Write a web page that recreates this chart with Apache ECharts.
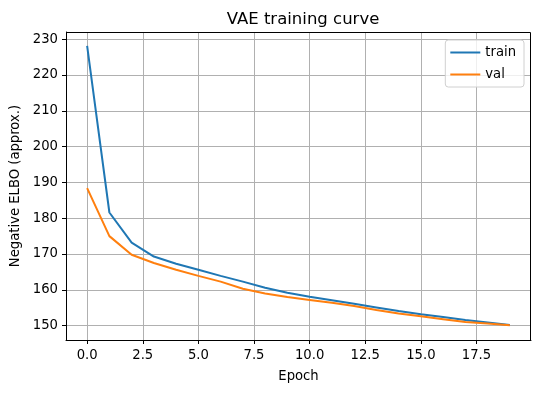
<!DOCTYPE html>
<html><head><meta charset="utf-8">
<script src="https://cdn.jsdelivr.net/npm/echarts@6/dist/echarts.min.js"></script>
<style>html,body{margin:0;padding:0;background:#fff}#c{width:540px;height:393px}</style>
</head><body><div id="c"></div>
<script>
const epochs = [0,1,2,3,4,5,6,7,8,9,10,11,12,13,14,15,16,17,18,19];
const train = [228.1,181.6,173.2,169.3,167.3,165.6,163.9,162.3,160.6,159.2,158.1,157.1,156.1,155.1,154.1,153.2,152.4,151.6,150.9,150.2];
const val = [188.4,175.0,169.8,167.5,165.6,163.9,162.3,160.3,159.0,158.0,157.2,156.4,155.5,154.4,153.4,152.6,151.8,151.0,150.6,150.1];
const xTicks = [0,2.5,5,7.5,10,12.5,15,17.5];
const yTicks = [150,160,170,180,190,200,210,220,230];

const font = 'DejaVu Sans';
const fs = 13.2;
const chart = echarts.init(document.getElementById('c'), null, {renderer:'canvas'});
chart.setOption({
  animation:false,
  backgroundColor:'#fff',
  title:{text:'VAE training curve', left:298, top:6, textAlign:'center',
    textStyle:{fontFamily:font, fontSize:16.5, fontWeight:'normal', color:'#000'}},
  grid:{left:66, right:9, top:32, bottom:53, containLabel:false, show:false},
  legend:{right:16, top:40, orient:'vertical', padding:[6,8,6,5], itemGap:9,
    itemWidth:30, itemHeight:2, icon:'rect', backgroundColor:'rgba(255,255,255,0.8)', borderColor:'#d0d0d0',
    borderWidth:1, borderRadius:3,
    textStyle:{fontFamily:font, fontSize:fs, color:'#000'},
    data:['train','val']},
  xAxis:{type:'value', min:-0.95, max:19.95, name:'Epoch', nameLocation:'middle', nameGap:30,
    nameTextStyle:{fontFamily:font, fontSize:fs, color:'#000'},
    axisLine:{show:true, onZero:false, lineStyle:{color:'#000', width:1}},
    axisTick:{show:true, length:4, inside:false, customValues:xTicks, lineStyle:{color:'#000'}},
    axisLabel:{customValues:xTicks, fontFamily:font, fontSize:fs, color:'#000', margin:9,
      formatter:v=>Number(v).toFixed(1)},
    splitLine:{show:true, lineStyle:{color:'#b0b0b0', width:1}}},
  yAxis:{type:'value', min:146.0, max:232.0, name:'Negative ELBO (approx.)', nameLocation:'middle', nameGap:43,
    nameTextStyle:{fontFamily:font, fontSize:fs, color:'#000'},
    axisLine:{show:true, onZero:false, lineStyle:{color:'#000', width:1}},
    axisTick:{show:true, length:4, inside:false, customValues:yTicks, lineStyle:{color:'#000'}},
    axisLabel:{customValues:yTicks, fontFamily:font, fontSize:fs, color:'#000', margin:8,
      formatter:v=>String(Math.round(v))},
    splitLine:{show:true, lineStyle:{color:'#b0b0b0', width:1}}},
  series:[
    {name:'train', type:'line', symbol:'none', data:epochs.map((e,i)=>[e,train[i]]),
      lineStyle:{color:'#1f77b4', width:2}, itemStyle:{color:'#1f77b4'}},
    {name:'val', type:'line', symbol:'none', data:epochs.map((e,i)=>[e,val[i]]),
      lineStyle:{color:'#ff7f0e', width:2}, itemStyle:{color:'#ff7f0e'}}
  ]
});
chart.setOption({graphic:[{type:'rect', shape:{x:66.5,y:32.5,width:464,height:308}, style:{fill:'none', stroke:'#000', lineWidth:1}, silent:true, z:100}]});
</script></body></html>
